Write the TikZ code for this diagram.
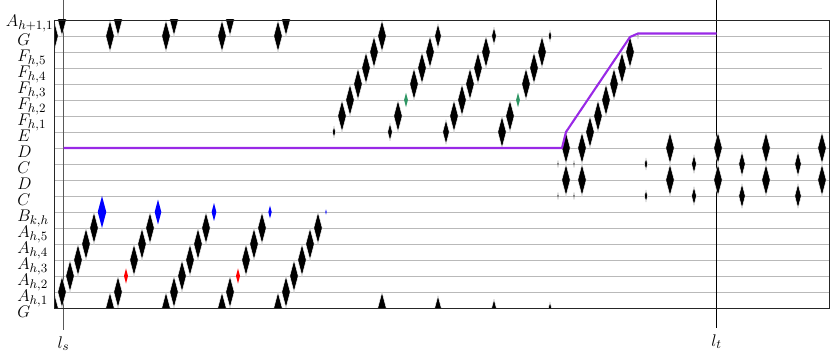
\documentclass[tikz,border=0pt]{standalone}
\usetikzlibrary{positioning}
\DeclareMathSizes{12}{12}{9}{7}
\definecolor{violetpath}{RGB}{153,41,230}
\definecolor{greenf}{RGB}{46,150,100}
\tikzset{dia/.pic={\path[pic actions] (0,-16) -- (4.25,0) -- (0,16) -- (-4.25,0) -- cycle;}}

\begin{document}
\begin{tikzpicture}[x=0.025cm, y=-0.025cm,
        every node/.style={font=\fontsize{12}{14}\selectfont},
        gridrow/.style={gray!55, line width=0.5pt},
        rowlbl/.style={anchor=north west, inner sep=0pt},
        dmd/.style={fill=black, draw=white, line width=0.35pt},
        cdmd/.style={fill=#1, draw=none},
        trail/.style={violetpath, line width=1.5pt, line join=round}
    ]
    \useasboundingbox (0,0) rectangle (831,353);
    % rows
    \foreach \k in {1,2,4,5,...,17}
        \draw[gridrow] (54,20+16*\k) -- (829,20+16*\k);
    \draw[gridrow] (54,68) -- (822,68);
    % time marks
    \coordinate (lstop) at (63.5,0);
    \coordinate (lsbot) at (63.5,330);
    \coordinate (lttop) at (716.5,0);
    \coordinate (ltbot) at (716.5,328);
    \draw[gray!70!black, line width=0.9pt] (lstop) -- (lsbot);
    \draw[black, line width=0.5pt] (lttop) -- (ltbot);
    \node[below=1pt of lsbot] (ls) {$l_s$};
    \node[below=1pt of ltbot] (lt) {$l_t$};
    % tasks
    \begin{scope}
        \clip (54,20) rectangle (829,308);
        \foreach \xo in {54,110,166,222,278} {
            \foreach \dx/\y in {0/308,8/292,24/260,32/244,40/228,0/36,8/20}
                \pic[dmd] at (\xo+\dx,\y) {dia};
        }
        \foreach \xo in {54,166,278}
            \pic[dmd] at (\xo+16,276) {dia};
        \foreach \x in {126,238}
            \pic[cdmd=red, scale=0.47] at (\x,276) {dia};
        \foreach \x/\s in {102/1,158/0.78,214/0.56,270/0.4,326/0.16}
            \pic[cdmd=blue, scale=\s] at (\x,212) {dia};
        \foreach \xo/\se/\sg in {334/0.375/1,390/0.56/0.78,446/0.78/0.56,502/1/0.38} {
            \pic[dmd, scale=\se] at (\xo,132) {dia};
            \foreach \dx/\y in {8/116,24/84,32/68,40/52}
                \pic[dmd] at (\xo+\dx,\y) {dia};
            \pic[dmd, scale=\sg] at (\xo+48,36) {dia};
            \pic[dmd, scale=\sg] at (\xo+48,308) {dia};
        }
        \foreach \x in {350,462}
            \pic[dmd] at (\x,100) {dia};
        \foreach \x in {406,518}
            \pic[cdmd=greenf, scale=0.45] at (\x,100) {dia};
        \foreach \x/\y in {566/148,566/180,582/148,582/180,590/132,598/116,606/100,614/84,622/68,630/52}
            \pic[dmd] at (\x,\y) {dia};
        \pic[dmd, scale=0.19] at (638,36) {dia};
        \foreach \x/\s in {558/0.22,574/0.22,646/0.38,694/0.58,742/0.77,798/0.77} {
            \pic[dmd, scale=\s] at (\x,164) {dia};
            \pic[dmd, scale=\s] at (\x,196) {dia};
        }
        \foreach \x in {670,718,766,822} {
            \pic[dmd] at (\x,148) {dia};
            \pic[dmd] at (\x,180) {dia};
        }
    \end{scope}
    \draw[black!85, line width=0.6pt] (54,20) rectangle (829,308);
    \draw[trail] (63.5,148) -- (562,148) -- (566,132) -- (630,37) -- (638,33.5) -- (716.5,33.5);
    % row labels
    \node[rowlbl, anchor=north east] (lbltop) at (53.5,15) {$A_{h+1,1}$};
    \foreach \k/\t in {1/G,2/{F_{h,5}},3/{F_{h,4}},4/{F_{h,3}},5/{F_{h,2}},6/{F_{h,1}},7/E,8/D,9/C,
            10/D,11/C,12/{B_{k,h}},13/{A_{h,5}},14/{A_{h,4}},15/{A_{h,3}},16/{A_{h,2}},17/{A_{h,1}},18/G}
        \node[rowlbl] (lbl\k) at (17,18+16*\k) {$\t$};
\end{tikzpicture}
\end{document}
